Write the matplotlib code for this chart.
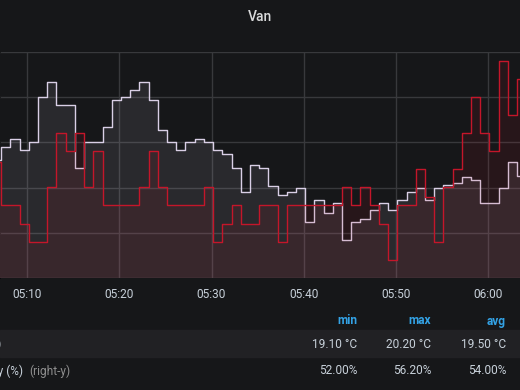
import numpy as np
import pandas as pd
import matplotlib
matplotlib.use("Agg")
import matplotlib.pyplot as plt
import matplotlib.dates as mdates
from matplotlib.patches import Rectangle

plt.rcParams['font.family'] = ['Roboto', 'DejaVu Sans']

# one sample per minute, staircase
times = pd.date_range("2021-01-01 05:06:10", periods=59, freq="min")

temp = [19.68, 19.77, 19.82, 19.75, 19.80, 20.10, 20.20, 20.05, 20.05, 19.63,
        19.80, 19.80, 19.90, 20.08, 20.10, 20.15, 20.20, 20.08, 19.88, 19.80,
        19.75, 19.80, 19.82, 19.80, 19.75, 19.72, 19.63, 19.47, 19.65, 19.63,
        19.51, 19.45, 19.47, 19.50, 19.27, 19.42, 19.33, 19.40, 19.15, 19.27,
        19.29, 19.35, 19.40, 19.35, 19.42, 19.47, 19.50, 19.42, 19.50, 19.52,
        19.53, 19.57, 19.55, 19.40, 19.40, 19.50, 19.67, 19.58, 19.58]

humid = [54.07, 53.15, 53.15, 52.76, 52.38, 52.38, 53.53, 54.67, 54.29, 54.67,
         53.53, 54.29, 53.15, 53.15, 53.15, 53.15, 53.53, 54.29, 53.53, 53.15,
         53.15, 53.15, 53.15, 53.53, 52.38, 52.76, 53.15, 52.76, 52.76, 53.15,
         53.15, 52.38, 53.15, 53.15, 53.15, 53.15, 53.15, 53.15, 53.53, 53.15,
         53.53, 53.15, 52.76, 52.00, 53.15, 53.15, 53.91, 53.33, 52.38, 53.53,
         53.91, 54.67, 55.44, 54.67, 54.29, 56.20, 55.05, 55.82, 55.82]

stat_names = ["min", "max", "avg"]
temp_stats = ["19.10 °C", "20.20 °C", "19.50 °C"]
humid_stats = ["52.00%", "56.20%", "54.00%"]

bg = '#161719'
grid_c = '#38393c'
temp_c = '#d9cfe6'
humid_c = '#c4162a'
text_c = '#c7d0d9'

W, H = 520, 390
fig = plt.figure(figsize=(W / 100, H / 100), dpi=100, facecolor=bg)

def fx(x):
    return x / W

def fy(y):
    return 1 - y / H

ax = fig.add_axes([0, fy(278), 1, fy(52) - fy(278)])
ax.set_facecolor(bg)
for s in ax.spines.values():
    s.set_visible(False)

t_lo, t_hi = 18.9, 20.4
ax.set_ylim(t_lo, t_hi)
ax.set_yticks(np.arange(t_lo, t_hi + 0.01, 0.3))
ax.set_xlim(pd.Timestamp("2021-01-01 05:07:02"), pd.Timestamp("2021-01-01 06:03:29"))
ax.xaxis.set_major_locator(mdates.MinuteLocator(byminute=range(0, 60, 10)))
ax.xaxis.set_major_formatter(mdates.DateFormatter('%H:%M'))
ax.grid(True, color=grid_c, lw=1.0)
ax.set_axisbelow(True)
ax.tick_params(axis='y', left=False, labelleft=False)
ax.tick_params(axis='x', length=0, pad=7, labelsize=8.6, labelcolor=text_c)

ax.fill_between(times, temp, t_lo, step='post', color=temp_c, alpha=0.1, lw=0)
ax.step(times, temp, where='post', color=temp_c, lw=1.0)

ax2 = ax.twinx()
for s in ax2.spines.values():
    s.set_visible(False)
h_lo, h_hi = 51.62, 56.38
ax2.set_ylim(h_lo, h_hi)
ax2.tick_params(axis='y', right=False, labelright=False)
ax2.fill_between(times, humid, h_lo, step='post', color=humid_c, alpha=0.1, lw=0)
ax2.step(times, humid, where='post', color=humid_c, lw=1.0)

fig.text(fx(260), fy(17), "Van", ha='center', va='center', fontsize=10,
         fontweight='medium', color='#d8d9da')

# legend table
fig.patches.append(Rectangle((0, fy(357)), 1, fy(330) - fy(357),
                             transform=fig.transFigure, color='#212124', zorder=0))
cols = [357.5, 431, 506]
for x, name, tv, hv in zip(cols, stat_names, temp_stats, humid_stats):
    fig.text(fx(x), fy(321), name, ha='right', va='center', fontsize=8.6,
             fontweight='bold', color='#33a2e5')
    fig.text(fx(x), fy(344), tv, ha='right', va='center', fontsize=8.6, color=text_c)
    fig.text(fx(x), fy(371), hv, ha='right', va='center', fontsize=8.6, color=text_c)

fig.text(fx(1.5), fy(344), "Temperature (°C)", ha='right', va='center',
         fontsize=8.6, color=text_c)
fig.text(fx(22.5), fy(371), "Humidity (%)", ha='right', va='center',
         fontsize=8.6, color=text_c)
fig.text(fx(29), fy(371), "(right-y)", ha='left', va='center',
         fontsize=8.6, color='#8e8e8e')

fig.savefig("out.png", dpi=100, facecolor=bg)
